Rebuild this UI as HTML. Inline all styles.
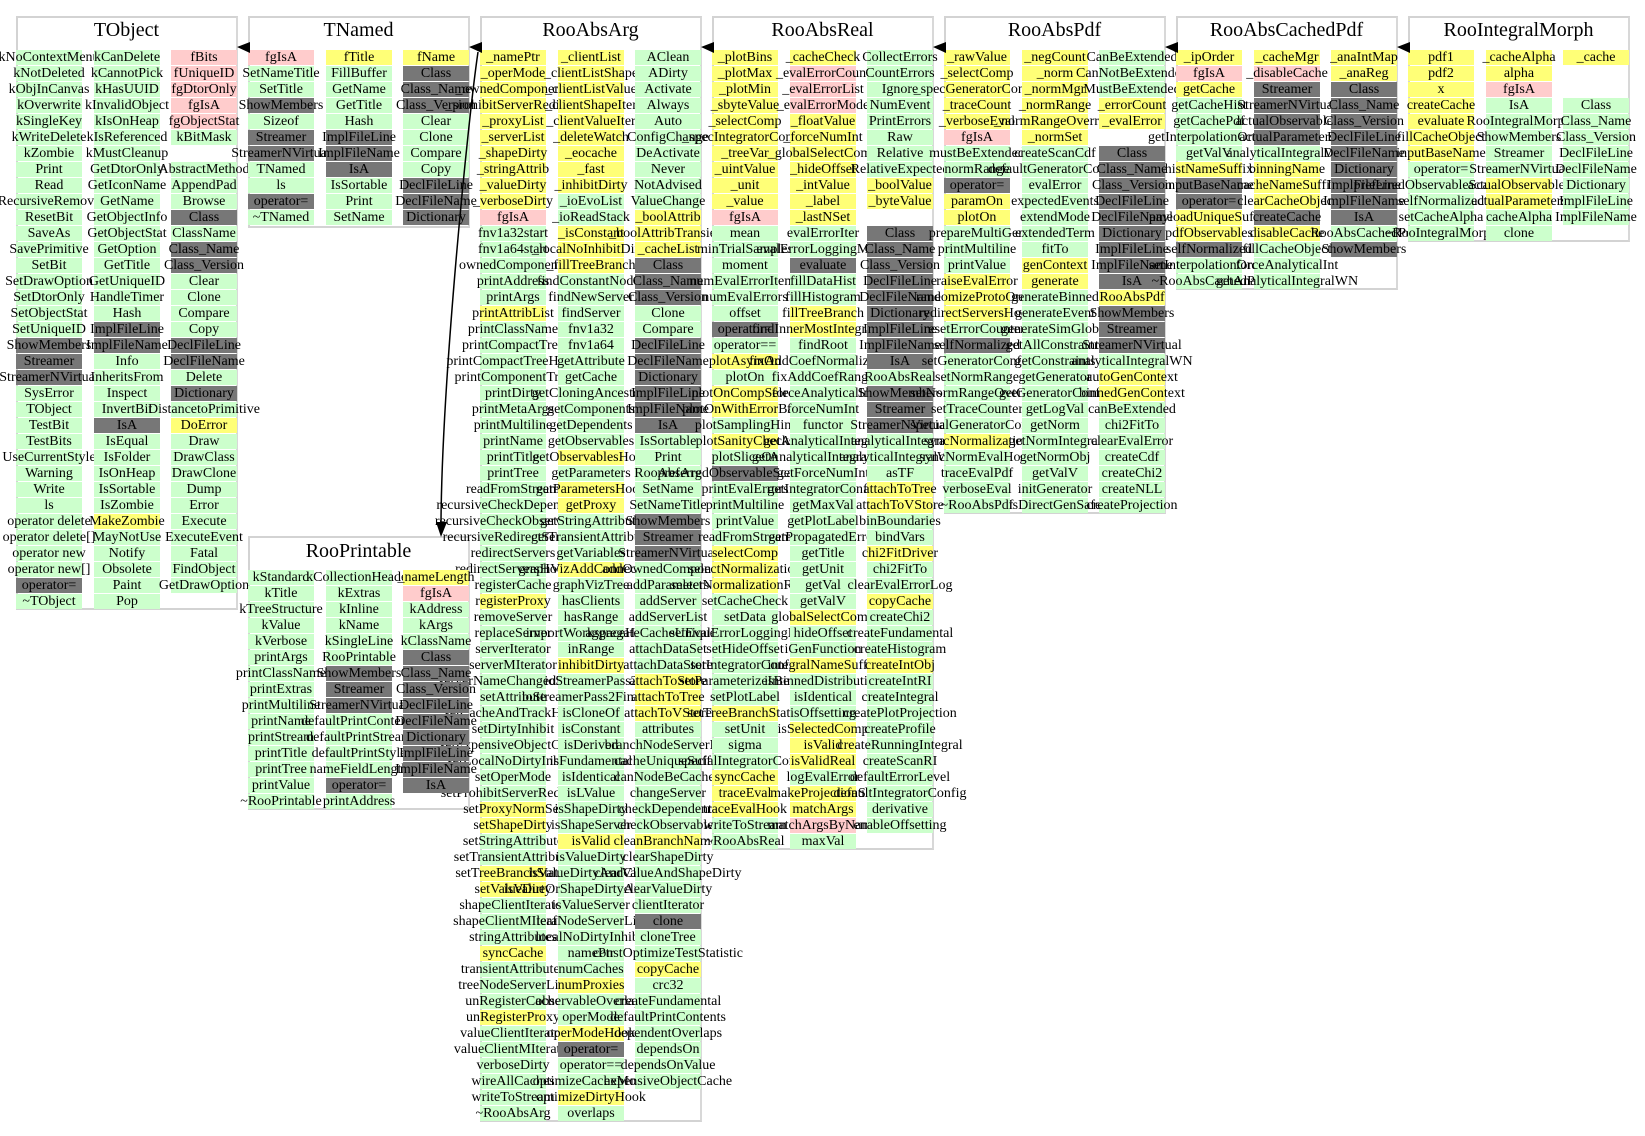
<!DOCTYPE html>
<html><head><meta charset="utf-8">
<style>
html,body{margin:0;padding:0;background:#fff;}
body{width:1645px;height:1136px;position:relative;overflow:hidden;font-family:"Liberation Serif","DejaVu Serif",serif;font-size:14px;color:#000;}
.box{position:absolute;border:2px solid #d3d3d3;border-right-color:#d8d8d8;background:#fff;box-sizing:border-box;}
.t{position:absolute;font-size:20px;text-align:center;width:221px;line-height:24px;}
.c{position:absolute;width:66px;}
.c b{display:flex;justify-content:center;width:66px;height:15px;margin-bottom:1px;line-height:15px;white-space:nowrap;font-weight:normal;background:#ccffcc;}
.c b.y{background:#ffff77;}
.c b.p{background:#ffcccc;}
.c b.d{background:#777777;}
.c b.e{background:transparent;}
svg{position:absolute;left:0;top:0;}
</style></head><body>

<!-- boxes -->
<div class="box" style="left:16px;top:16px;width:222px;height:594px"></div>
<div class="box" style="left:248px;top:16px;width:222px;height:212px"></div>
<div class="box" style="left:480px;top:16px;width:222px;height:1106px"></div>
<div class="box" style="left:712px;top:16px;width:222px;height:834px"></div>
<div class="box" style="left:944px;top:16px;width:222px;height:498px"></div>
<div class="box" style="left:1176px;top:16px;width:222px;height:274px"></div>
<div class="box" style="left:1408px;top:16px;width:222px;height:226px"></div>
<div class="box" style="left:248px;top:536px;width:222px;height:274px"></div>

<div class="t" style="left:16px;top:18px">TObject</div>
<div class="t" style="left:248px;top:18px">TNamed</div>
<div class="t" style="left:480px;top:18px">RooAbsArg</div>
<div class="t" style="left:712px;top:18px">RooAbsReal</div>
<div class="t" style="left:944px;top:18px">RooAbsPdf</div>
<div class="t" style="left:1176px;top:18px">RooAbsCachedPdf</div>
<div class="t" style="left:1408px;top:18px">RooIntegralMorph</div>
<div class="t" style="left:248px;top:539px">RooPrintable</div>

<!-- TObject -->
<div class="c" style="left:16px;top:50px"><b>kNoContextMenu</b><b>kNotDeleted</b><b>kObjInCanvas</b><b>kOverwrite</b><b>kSingleKey</b><b>kWriteDelete</b><b>kZombie</b><b>Print</b><b>Read</b><b>RecursiveRemove</b><b>ResetBit</b><b>SaveAs</b><b>SavePrimitive</b><b>SetBit</b><b>SetDrawOption</b><b>SetDtorOnly</b><b>SetObjectStat</b><b>SetUniqueID</b><b class=d>ShowMembers</b><b class=d>Streamer</b><b class=d>StreamerNVirtual</b><b>SysError</b><b>TObject</b><b>TestBit</b><b>TestBits</b><b>UseCurrentStyle</b><b>Warning</b><b>Write</b><b>ls</b><b>operator delete</b><b>operator delete[]</b><b>operator new</b><b>operator new[]</b><b class=d>operator=</b><b>~TObject</b></div>
<div class="c" style="left:94px;top:50px"><b>kCanDelete</b><b>kCannotPick</b><b>kHasUUID</b><b>kInvalidObject</b><b>kIsOnHeap</b><b>kIsReferenced</b><b>kMustCleanup</b><b>GetDtorOnly</b><b>GetIconName</b><b>GetName</b><b>GetObjectInfo</b><b>GetObjectStat</b><b>GetOption</b><b>GetTitle</b><b>GetUniqueID</b><b>HandleTimer</b><b>Hash</b><b class=d>ImplFileLine</b><b class=d>ImplFileName</b><b>Info</b><b>InheritsFrom</b><b>Inspect</b><b>InvertBit</b><b class=d>IsA</b><b>IsEqual</b><b>IsFolder</b><b>IsOnHeap</b><b>IsSortable</b><b>IsZombie</b><b class=y>MakeZombie</b><b>MayNotUse</b><b>Notify</b><b>Obsolete</b><b>Paint</b><b>Pop</b></div>
<div class="c" style="left:171px;top:50px"><b class=p>fBits</b><b class=p>fUniqueID</b><b class=p>fgDtorOnly</b><b class=p>fgIsA</b><b class=p>fgObjectStat</b><b>kBitMask</b><b class=e></b><b>AbstractMethod</b><b>AppendPad</b><b>Browse</b><b class=d>Class</b><b>ClassName</b><b class=d>Class_Name</b><b class=d>Class_Version</b><b>Clear</b><b>Clone</b><b>Compare</b><b>Copy</b><b class=d>DeclFileLine</b><b class=d>DeclFileName</b><b>Delete</b><b class=d>Dictionary</b><b>DistancetoPrimitive</b><b class=y>DoError</b><b>Draw</b><b>DrawClass</b><b>DrawClone</b><b>Dump</b><b>Error</b><b>Execute</b><b>ExecuteEvent</b><b>Fatal</b><b>FindObject</b><b>GetDrawOption</b></div>

<!-- TNamed -->
<div class="c" style="left:248px;top:50px"><b class=p>fgIsA</b><b>SetNameTitle</b><b>SetTitle</b><b class=d>ShowMembers</b><b>Sizeof</b><b class=d>Streamer</b><b class=d>StreamerNVirtual</b><b>TNamed</b><b>ls</b><b class=d>operator=</b><b>~TNamed</b></div>
<div class="c" style="left:326px;top:50px"><b class=y>fTitle</b><b>FillBuffer</b><b>GetName</b><b>GetTitle</b><b>Hash</b><b class=d>ImplFileLine</b><b class=d>ImplFileName</b><b class=d>IsA</b><b>IsSortable</b><b>Print</b><b>SetName</b></div>
<div class="c" style="left:403px;top:50px"><b class=y>fName</b><b class=d>Class</b><b class=d>Class_Name</b><b class=d>Class_Version</b><b>Clear</b><b>Clone</b><b>Compare</b><b>Copy</b><b class=d>DeclFileLine</b><b class=d>DeclFileName</b><b class=d>Dictionary</b></div>

<!-- RooAbsArg -->
<div class="c" style="left:480px;top:50px"><b class=y>_namePtr</b><b class=y>_operMode</b><b class=y>_ownedComponents</b><b class=y>_prohibitServerRedirect</b><b class=y>_proxyList</b><b class=y>_serverList</b><b class=y>_shapeDirty</b><b class=y>_stringAttrib</b><b class=y>_valueDirty</b><b class=y>_verboseDirty</b><b class=p>fgIsA</b><b>fnv1a32start</b><b>fnv1a64start</b><b>ownedComponents</b><b>printAddress</b><b>printArgs</b><b class=y>printAttribList</b><b>printClassName</b><b>printCompactTree</b><b>printCompactTreeHook</b><b>printComponentTree</b><b>printDirty</b><b>printMetaArgs</b><b>printMultiline</b><b>printName</b><b>printTitle</b><b>printTree</b><b>readFromStream</b><b>recursiveCheckDependents</b><b>recursiveCheckObservables</b><b>recursiveRedirectServers</b><b>redirectServers</b><b>redirectServersHook</b><b>registerCache</b><b class=y>registerProxy</b><b>removeServer</b><b>replaceServer</b><b>serverIterator</b><b>serverMIterator</b><b>serverNameChangedHook</b><b>setAttribute</b><b>setCacheAndTrackHints</b><b>setDirtyInhibit</b><b>setExpensiveObjectCache</b><b>setLocalNoDirtyInhibit</b><b>setOperMode</b><b>setProhibitServerRedirect</b><b class=y>setProxyNormSet</b><b class=y>setShapeDirty</b><b>setStringAttribute</b><b>setTransientAttribute</b><b class=y>setTreeBranchStatus</b><b class=y>setValueDirty</b><b>shapeClientIterator</b><b>shapeClientMIterator</b><b>stringAttributes</b><b class=y>syncCache</b><b>transientAttributes</b><b>treeNodeServerList</b><b>unRegisterCache</b><b class=y>unRegisterProxy</b><b>valueClientIterator</b><b>valueClientMIterator</b><b>verboseDirty</b><b>wireAllCaches</b><b>writeToStream</b><b>~RooAbsArg</b></div>
<div class="c" style="left:558px;top:50px"><b class=y>_clientList</b><b class=y>_clientListShape</b><b class=y>_clientListValue</b><b class=y>_clientShapeIter</b><b class=y>_clientValueIter</b><b class=y>_deleteWatch</b><b class=y>_eocache</b><b class=y>_fast</b><b class=y>_inhibitDirty</b><b>_ioEvoList</b><b>_ioReadStack</b><b class=y>_isConstant</b><b class=y>_localNoInhibitDirty</b><b class=y>_fillTreeBranch</b><b>findConstantNodes</b><b>findNewServer</b><b>findServer</b><b>fnv1a32</b><b>fnv1a64</b><b>getAttribute</b><b>getCache</b><b>getCloningAncestors</b><b>getComponents</b><b>getDependents</b><b>getObservables</b><b class=y>getObservablesHook</b><b>getParameters</b><b class=y>getParametersHook</b><b class=y>getProxy</b><b>getStringAttribute</b><b>getTransientAttribute</b><b>getVariables</b><b class=y>graphVizAddConnections</b><b>graphVizTree</b><b>hasClients</b><b>hasRange</b><b>importWorkspaceHook</b><b>inRange</b><b class=y>inhibitDirty</b><b>ioStreamerPass2</b><b>ioStreamerPass2Finalize</b><b>isCloneOf</b><b>isConstant</b><b>isDerived</b><b>isFundamental</b><b>isIdentical</b><b>isLValue</b><b>isShapeDirty</b><b>isShapeServer</b><b class=y>isValid</b><b>isValueDirty</b><b>isValueDirtyAndClear</b><b>isValueOrShapeDirtyAndClear</b><b>isValueServer</b><b>leafNodeServerList</b><b>localNoDirtyInhibit</b><b>namePtr</b><b>numCaches</b><b class=y>numProxies</b><b>observableOverlaps</b><b>operMode</b><b class=y>operModeHook</b><b class=d>operator=</b><b>operator==</b><b>optimizeCacheMode</b><b class=y>optimizeDirtyHook</b><b>overlaps</b></div>
<div class="c" style="left:635px;top:50px"><b>AClean</b><b>ADirty</b><b>Activate</b><b>Always</b><b>Auto</b><b>ConfigChange</b><b>DeActivate</b><b>Never</b><b>NotAdvised</b><b>ValueChange</b><b class=y>_boolAttrib</b><b class=y>_boolAttribTransient</b><b class=y>_cacheList</b><b class=d>Class</b><b class=d>Class_Name</b><b class=d>Class_Version</b><b>Clone</b><b>Compare</b><b class=d>DeclFileLine</b><b class=d>DeclFileName</b><b class=d>Dictionary</b><b class=d>ImplFileLine</b><b class=d>ImplFileName</b><b class=d>IsA</b><b>IsSortable</b><b>Print</b><b>RooAbsArg</b><b>SetName</b><b>SetNameTitle</b><b class=d>ShowMembers</b><b class=d>Streamer</b><b class=d>StreamerNVirtual</b><b>addOwnedComponents</b><b>addParameters</b><b>addServer</b><b>addServerList</b><b>aggregateCacheUniqueSuffix</b><b>attachDataSet</b><b>attachDataStore</b><b class=y>attachToStore</b><b class=y>attachToTree</b><b class=y>attachToVStore</b><b>attributes</b><b>branchNodeServerList</b><b>cacheUniqueSuffix</b><b>canNodeBeCached</b><b>changeServer</b><b>checkDependents</b><b>checkObservables</b><b class=y>cleanBranchNames</b><b>clearShapeDirty</b><b>clearValueAndShapeDirty</b><b>clearValueDirty</b><b>clientIterator</b><b class=d>clone</b><b>cloneTree</b><b>constOptimizeTestStatistic</b><b class=y>copyCache</b><b>crc32</b><b>createFundamental</b><b>defaultPrintContents</b><b>dependentOverlaps</b><b>dependsOn</b><b>dependsOnValue</b><b>expensiveObjectCache</b></div>

<!-- RooAbsReal -->
<div class="c" style="left:712px;top:50px"><b class=y>_plotBins</b><b class=y>_plotMax</b><b class=y>_plotMin</b><b class=y>_sbyteValue</b><b class=y>_selectComp</b><b class=y>_specIntegratorConfig</b><b class=y>_treeVar</b><b class=y>_uintValue</b><b class=y>_unit</b><b class=y>_value</b><b class=p>fgIsA</b><b>mean</b><b>minTrialSamples</b><b>moment</b><b>numEvalErrorItems</b><b>numEvalErrors</b><b>offset</b><b class=d>operator=</b><b>operator==</b><b class=y>plotAsymOn</b><b>plotOn</b><b class=y>plotOnCompSelect</b><b class=y>plotOnWithErrorBand</b><b>plotSamplingHint</b><b class=y>plotSanityChecks</b><b>plotSliceOn</b><b class=d>preferredObservableScanOrder</b><b>printEvalErrors</b><b>printMultiline</b><b>printValue</b><b>readFromStream</b><b class=y>selectComp</b><b class=y>selectNormalization</b><b class=y>selectNormalizationRange</b><b>setCacheCheck</b><b>setData</b><b>setEvalErrorLoggingMode</b><b>setHideOffset</b><b>setIntegratorConfig</b><b>setParameterizeIntegral</b><b>setPlotLabel</b><b class=y>setTreeBranchStatus</b><b>setUnit</b><b>sigma</b><b>specialIntegratorConfig</b><b class=y>syncCache</b><b class=y>traceEval</b><b class=y>traceEvalHook</b><b>writeToStream</b><b>~RooAbsReal</b></div>
<div class="c" style="left:790px;top:50px"><b class=y>_cacheCheck</b><b class=p>_evalErrorCount</b><b class=p>_evalErrorList</b><b class=p>_evalErrorMode</b><b class=y>_floatValue</b><b class=y>_forceNumInt</b><b class=y>_globalSelectComp</b><b class=y>_hideOffset</b><b class=y>_intValue</b><b class=y>_label</b><b class=y>_lastNSet</b><b>evalErrorIter</b><b>evalErrorLoggingMode</b><b class=d>evaluate</b><b>fillDataHist</b><b>fillHistogram</b><b class=y>fillTreeBranch</b><b class=y>findInnerMostIntegration</b><b>findRoot</b><b>fixAddCoefNormalization</b><b>fixAddCoefRange</b><b>forceAnalyticalInt</b><b>forceNumInt</b><b>functor</b><b>getAnalyticalIntegral</b><b>getAnalyticalIntegralWN</b><b>getForceNumInt</b><b>getIntegratorConfig</b><b>getMaxVal</b><b>getPlotLabel</b><b>getPropagatedError</b><b>getTitle</b><b>getUnit</b><b>getVal</b><b>getValV</b><b class=y>globalSelectComp</b><b>hideOffset</b><b>iGenFunction</b><b class=y>integralNameSuffix</b><b>isBinnedDistribution</b><b>isIdentical</b><b>isOffsetting</b><b class=y>isSelectedComp</b><b class=y>isValid</b><b class=y>isValidReal</b><b>logEvalError</b><b class=y>makeProjectionSet</b><b class=y>matchArgs</b><b class=p>matchArgsByName</b><b>maxVal</b></div>
<div class="c" style="left:867px;top:50px"><b>CollectErrors</b><b>CountErrors</b><b>Ignore</b><b>NumEvent</b><b>PrintErrors</b><b>Raw</b><b>Relative</b><b>RelativeExpected</b><b class=y>_boolValue</b><b class=y>_byteValue</b><b class=e></b><b class=d>Class</b><b class=d>Class_Name</b><b class=d>Class_Version</b><b class=d>DeclFileLine</b><b class=d>DeclFileName</b><b class=d>Dictionary</b><b class=d>ImplFileLine</b><b class=d>ImplFileName</b><b class=d>IsA</b><b>RooAbsReal</b><b class=d>ShowMembers</b><b class=d>Streamer</b><b class=d>StreamerNVirtual</b><b>analyticalIntegral</b><b>analyticalIntegralWN</b><b>asTF</b><b class=y>attachToTree</b><b class=y>attachToVStore</b><b>binBoundaries</b><b>bindVars</b><b class=y>chi2FitDriver</b><b>chi2FitTo</b><b>clearEvalErrorLog</b><b class=y>copyCache</b><b>createChi2</b><b>createFundamental</b><b>createHistogram</b><b class=y>createIntObj</b><b>createIntRI</b><b>createIntegral</b><b>createPlotProjection</b><b>createProfile</b><b>createRunningIntegral</b><b>createScanRI</b><b>defaultErrorLevel</b><b>defaultIntegratorConfig</b><b>derivative</b><b>enableOffsetting</b></div>

<!-- RooAbsPdf -->
<div class="c" style="left:944px;top:50px"><b class=y>_rawValue</b><b class=y>_selectComp</b><b class=y>_specGeneratorConfig</b><b class=y>_traceCount</b><b class=y>_verboseEval</b><b class=p>fgIsA</b><b>mustBeExtended</b><b>normRange</b><b class=d>operator=</b><b class=y>paramOn</b><b class=y>plotOn</b><b>prepareMultiGen</b><b>printMultiline</b><b>printValue</b><b class=y>raiseEvalError</b><b class=y>randomizeProtoOrder</b><b class=y>redirectServersHook</b><b>resetErrorCounters</b><b class=d>selfNormalized</b><b>setGeneratorConfig</b><b>setNormRange</b><b>setNormRangeOverride</b><b>setTraceCounter</b><b>specialGeneratorConfig</b><b class=y>syncNormalization</b><b>syncNormEvalHook</b><b>traceEvalPdf</b><b>verboseEval</b><b>~RooAbsPdf</b></div>
<div class="c" style="left:1022px;top:50px"><b class=y>_negCount</b><b class=y>_norm</b><b class=y>_normMgr</b><b class=y>_normRange</b><b class=y>_normRangeOverride</b><b class=y>_normSet</b><b>createScanCdf</b><b>defaultGeneratorConfig</b><b>evalError</b><b>expectedEvents</b><b>extendMode</b><b>extendedTerm</b><b>fitTo</b><b class=y>genContext</b><b class=y>generate</b><b>generateBinned</b><b>generateEvent</b><b>generateSimGlobal</b><b>getAllConstraints</b><b>getConstraints</b><b>getGenerator</b><b>getGeneratorConfig</b><b>getLogVal</b><b>getNorm</b><b>getNormIntegral</b><b>getNormObj</b><b>getValV</b><b>initGenerator</b><b>isDirectGenSafe</b></div>
<div class="c" style="left:1099px;top:50px"><b>CanBeExtended</b><b>CanNotBeExtended</b><b>MustBeExtended</b><b class=y>_errorCount</b><b class=y>_evalError</b><b class=e></b><b class=d>Class</b><b class=d>Class_Name</b><b class=d>Class_Version</b><b class=d>DeclFileLine</b><b class=d>DeclFileName</b><b class=d>Dictionary</b><b class=d>ImplFileLine</b><b class=d>ImplFileName</b><b class=d>IsA</b><b class=y>RooAbsPdf</b><b class=d>ShowMembers</b><b class=d>Streamer</b><b class=d>StreamerNVirtual</b><b>analyticalIntegralWN</b><b class=y>autoGenContext</b><b class=y>binnedGenContext</b><b>canBeExtended</b><b>chi2FitTo</b><b>clearEvalError</b><b>createCdf</b><b>createChi2</b><b>createNLL</b><b>createProjection</b></div>

<!-- RooAbsCachedPdf -->
<div class="c" style="left:1176px;top:50px"><b class=y>_ipOrder</b><b class=p>fgIsA</b><b class=y>getCache</b><b>getCacheHist</b><b>getCachePdf</b><b>getInterpolationOrder</b><b>getValV</b><b class=y>histNameSuffix</b><b class=d>inputBaseName</b><b class=d>operator=</b><b class=y>payloadUniqueSuffix</b><b class=y>pdfObservables</b><b class=d>selfNormalized</b><b>setInterpolationOrder</b><b>~RooAbsCachedPdf</b></div>
<div class="c" style="left:1254px;top:50px"><b class=y>_cacheMgr</b><b class=p>_disableCache</b><b class=d>Streamer</b><b class=d>StreamerNVirtual</b><b class=d>actualObservables</b><b class=d>actualParameters</b><b>analyticalIntegralWN</b><b class=y>binningName</b><b class=y>cacheNameSuffix</b><b class=y>clearCacheObject</b><b class=d>createCache</b><b class=y>disableCache</b><b>fillCacheObject</b><b>forceAnalyticalInt</b><b>getAnalyticalIntegralWN</b></div>
<div class="c" style="left:1331px;top:50px"><b class=y>_anaIntMap</b><b class=y>_anaReg</b><b class=d>Class</b><b class=d>Class_Name</b><b class=d>Class_Version</b><b class=d>DeclFileLine</b><b class=d>DeclFileName</b><b class=d>Dictionary</b><b class=d>ImplFileLine</b><b class=d>ImplFileName</b><b class=d>IsA</b><b>RooAbsCachedPdf</b><b class=d>ShowMembers</b></div>

<!-- RooIntegralMorph -->
<div class="c" style="left:1408px;top:50px"><b class=y>pdf1</b><b class=y>pdf2</b><b class=y>x</b><b class=y>createCache</b><b class=y>evaluate</b><b class=y>fillCacheObject</b><b class=y>inputBaseName</b><b>operator=</b><b>preferredObservableScanOrder</b><b>selfNormalized</b><b>setCacheAlpha</b><b>~RooIntegralMorph</b></div>
<div class="c" style="left:1486px;top:50px"><b class=y>_cacheAlpha</b><b class=y>alpha</b><b class=p>fgIsA</b><b>IsA</b><b>RooIntegralMorph</b><b>ShowMembers</b><b>Streamer</b><b>StreamerNVirtual</b><b class=y>actualObservables</b><b class=y>actualParameters</b><b>cacheAlpha</b><b>clone</b></div>
<div class="c" style="left:1563px;top:50px"><b class=y>_cache</b><b class=e></b><b class=e></b><b>Class</b><b>Class_Name</b><b>Class_Version</b><b>DeclFileLine</b><b>DeclFileName</b><b>Dictionary</b><b>ImplFileLine</b><b>ImplFileName</b></div>

<!-- RooPrintable -->
<div class="c" style="left:248px;top:570px"><b>kStandard</b><b>kTitle</b><b>kTreeStructure</b><b>kValue</b><b>kVerbose</b><b>printArgs</b><b>printClassName</b><b>printExtras</b><b>printMultiline</b><b>printName</b><b>printStream</b><b>printTitle</b><b>printTree</b><b>printValue</b><b>~RooPrintable</b></div>
<div class="c" style="left:326px;top:570px"><b>kCollectionHeader</b><b>kExtras</b><b>kInline</b><b>kName</b><b>kSingleLine</b><b>RooPrintable</b><b class=d>ShowMembers</b><b class=d>Streamer</b><b class=d>StreamerNVirtual</b><b>defaultPrintContents</b><b>defaultPrintStream</b><b>defaultPrintStyle</b><b>nameFieldLength</b><b class=d>operator=</b><b>printAddress</b></div>
<div class="c" style="left:403px;top:570px"><b class=y>_nameLength</b><b class=p>fgIsA</b><b>kAddress</b><b>kArgs</b><b>kClassName</b><b class=d>Class</b><b class=d>Class_Name</b><b class=d>Class_Version</b><b class=d>DeclFileLine</b><b class=d>DeclFileName</b><b class=d>Dictionary</b><b class=d>ImplFileLine</b><b class=d>ImplFileName</b><b class=d>IsA</b></div>

<svg width="1645" height="1136" viewBox="0 0 1645 1136">
<polygon points="237,47 250,42 250,53" fill="#000"/>
<polygon points="469,47 482,42 482,53" fill="#000"/>
<polygon points="701,47 714,42 714,53" fill="#000"/>
<polygon points="933,47 946,42 946,53" fill="#000"/>
<polygon points="1165,47 1178,42 1178,53" fill="#000"/>
<polygon points="1397,47 1410,42 1410,53" fill="#000"/>
<path d="M478 52 C468 120, 442 380, 441 522" stroke="#000" stroke-width="1.5" fill="none"/>
<polygon points="441,537 436,522 447,522" fill="#000"/>
</svg>
</body></html>
